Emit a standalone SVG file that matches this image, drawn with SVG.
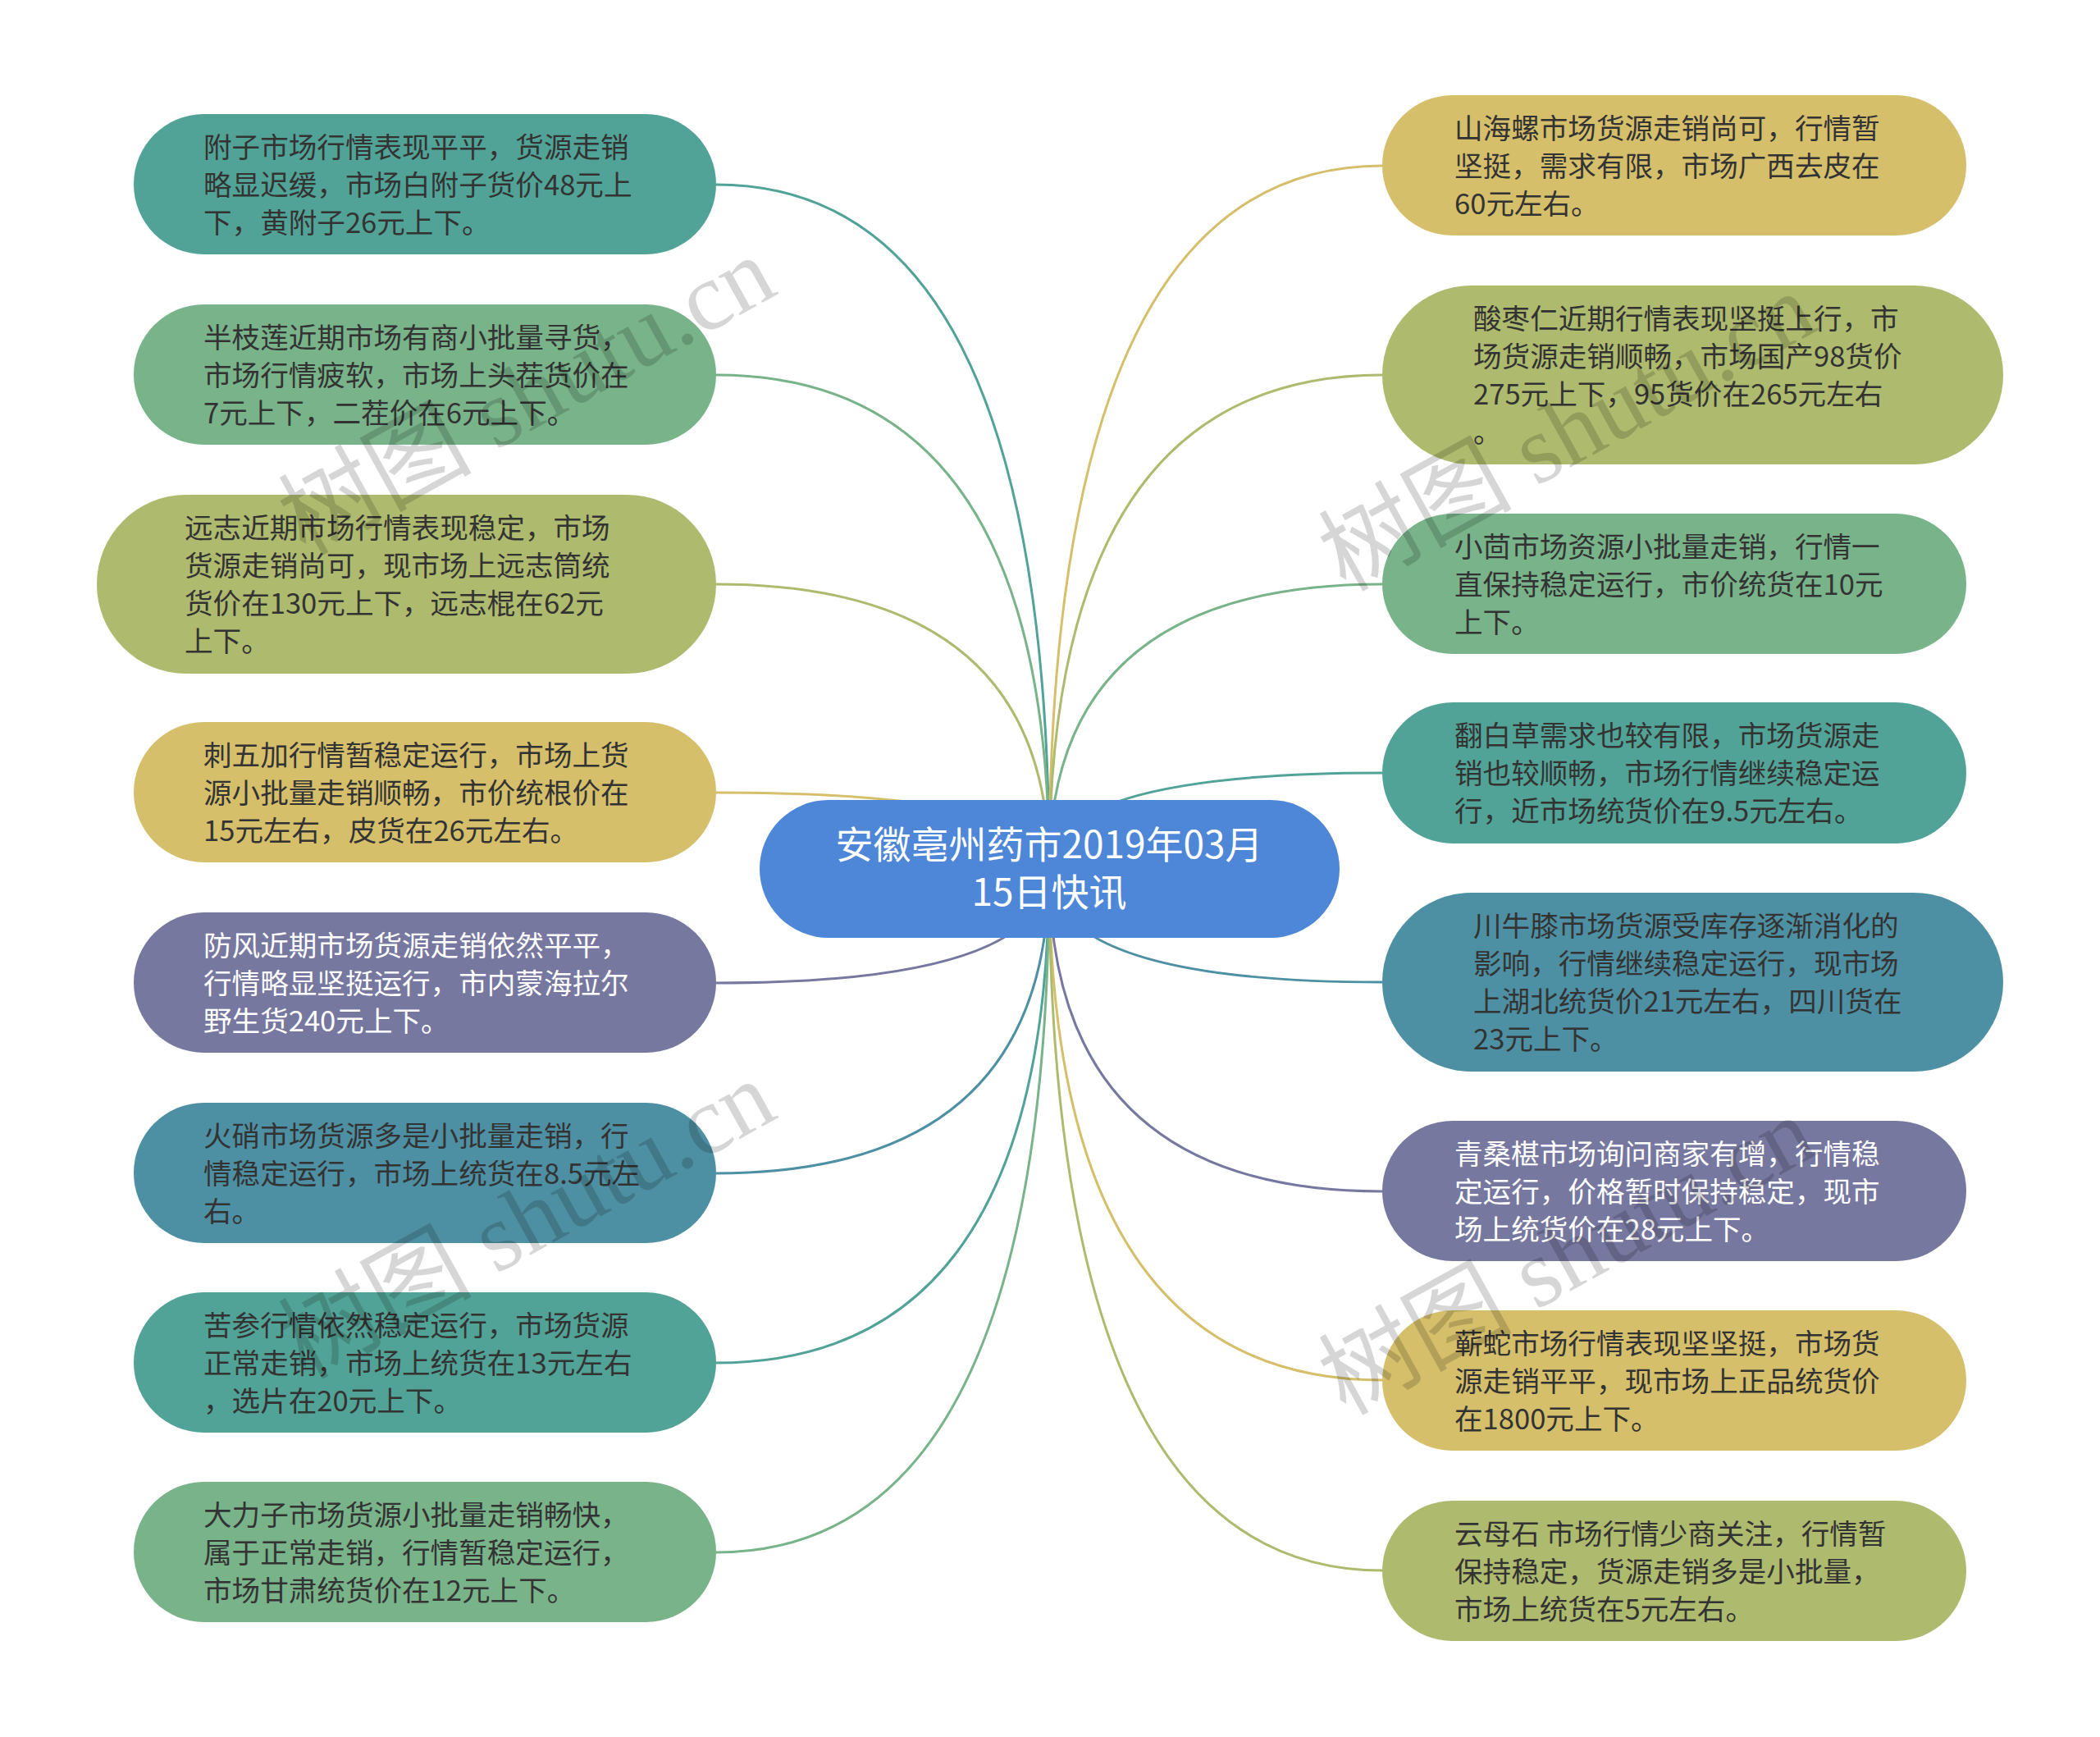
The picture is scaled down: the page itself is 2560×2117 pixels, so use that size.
<svg xmlns="http://www.w3.org/2000/svg" width="2560" height="2117" viewBox="0 0 2560 2117">
<style>
.c path{fill:none;stroke-width:3}
.n text{font-family:"Noto Sans CJK SC","Liberation Sans",sans-serif;font-size:34.6px;fill:#333}
.n.lt text{fill:#fff}
.teal{fill:#52a397}.green{fill:#79b38a}.olive{fill:#aeba6d}.gold{fill:#d5bf6b}.purple{fill:#77789f}.blue{fill:#4e90a3}
.wm text{font-family:"Liberation Serif","Noto Sans CJK SC",serif;font-size:118px;fill:#000;fill-opacity:0.16}
</style>
<rect width="2560" height="2117" fill="#fff"/>
<g id="connectors" class="c">
<path d="M873 225 Q1279 225 1279 1059" stroke="#52a397"/>
<path d="M873 457 Q1279 457 1279 1059" stroke="#79b38a"/>
<path d="M873 712 Q1279 712 1279 1059" stroke="#aeba6d"/>
<path d="M873 966 Q1279 966 1279 1059" stroke="#d5bf6b"/>
<path d="M873 1198 Q1279 1198 1279 1059" stroke="#77789f"/>
<path d="M873 1430 Q1279 1430 1279 1059" stroke="#4e90a3"/>
<path d="M873 1661 Q1279 1661 1279 1059" stroke="#52a397"/>
<path d="M873 1892 Q1279 1892 1279 1059" stroke="#79b38a"/>
<path d="M1685 202 Q1279 202 1279 1059" stroke="#d5bf6b"/>
<path d="M1685 457 Q1279 457 1279 1059" stroke="#aeba6d"/>
<path d="M1685 712 Q1279 712 1279 1059" stroke="#79b38a"/>
<path d="M1685 942 Q1279 942 1279 1059" stroke="#52a397"/>
<path d="M1685 1197 Q1279 1197 1279 1059" stroke="#4e90a3"/>
<path d="M1685 1452 Q1279 1452 1279 1059" stroke="#77789f"/>
<path d="M1685 1682 Q1279 1682 1279 1059" stroke="#d5bf6b"/>
<path d="M1685 1914 Q1279 1914 1279 1059" stroke="#aeba6d"/>
</g>
<g id="center">
<rect x="926" y="975" width="707" height="168" rx="84" fill="#4e86d8"/>
<text x="1279" y="1046" text-anchor="middle" font-family="Noto Sans CJK SC, Liberation Sans, sans-serif" font-size="46" fill="#fff">安徽亳州药市2019年03月</text>
<text x="1279" y="1104" text-anchor="middle" font-family="Noto Sans CJK SC, Liberation Sans, sans-serif" font-size="46" fill="#fff">15日快讯</text>
</g>
<g id="n-fuzi" class="n">
<rect class="teal" x="163" y="139" width="710" height="171" rx="85.5"/>
<text x="248" y="192">附子市场行情表现平平，货源走销</text>
<text x="248" y="238">略显迟缓，市场白附子货价48元上</text>
<text x="248" y="284">下，黄附子26元上下。</text>
</g>
<g id="n-banzhilian" class="n">
<rect class="green" x="163" y="371" width="710" height="171" rx="85.5"/>
<text x="248" y="424">半枝莲近期市场有商小批量寻货，</text>
<text x="248" y="470">市场行情疲软，市场上头茬货价在</text>
<text x="248" y="516">7元上下，二茬价在6元上下。</text>
</g>
<g id="n-yuanzhi" class="n">
<rect class="olive" x="118" y="603" width="755" height="218" rx="109"/>
<text x="225" y="656">远志近期市场行情表现稳定，市场</text>
<text x="225" y="702">货源走销尚可，现市场上远志筒统</text>
<text x="225" y="748">货价在130元上下，远志棍在62元</text>
<text x="225" y="794">上下。</text>
</g>
<g id="n-ciwujia" class="n">
<rect class="gold" x="163" y="880" width="710" height="171" rx="85.5"/>
<text x="248" y="933">刺五加行情暂稳定运行，市场上货</text>
<text x="248" y="979">源小批量走销顺畅，市价统根价在</text>
<text x="248" y="1025">15元左右，皮货在26元左右。</text>
</g>
<g id="n-fangfeng" class="n lt">
<rect class="purple" x="163" y="1112" width="710" height="171" rx="85.5"/>
<text x="248" y="1165">防风近期市场货源走销依然平平，</text>
<text x="248" y="1211">行情略显坚挺运行，市内蒙海拉尔</text>
<text x="248" y="1257">野生货240元上下。</text>
</g>
<g id="n-huoxiao" class="n">
<rect class="blue" x="163" y="1344" width="710" height="171" rx="85.5"/>
<text x="248" y="1397">火硝市场货源多是小批量走销，行</text>
<text x="248" y="1443">情稳定运行，市场上统货在8.5元左</text>
<text x="248" y="1489">右。</text>
</g>
<g id="n-kushen" class="n">
<rect class="teal" x="163" y="1575" width="710" height="171" rx="85.5"/>
<text x="248" y="1628">苦参行情依然稳定运行，市场货源</text>
<text x="248" y="1674">正常走销，市场上统货在13元左右</text>
<text x="248" y="1720">，选片在20元上下。</text>
</g>
<g id="n-dalizi" class="n">
<rect class="green" x="163" y="1806" width="710" height="171" rx="85.5"/>
<text x="248" y="1859">大力子市场货源小批量走销畅快，</text>
<text x="248" y="1905">属于正常走销，行情暂稳定运行，</text>
<text x="248" y="1951">市场甘肃统货价在12元上下。</text>
</g>
<g id="n-shanhailuo" class="n">
<rect class="gold" x="1685" y="116" width="712" height="171" rx="85.5"/>
<text x="1773" y="169">山海螺市场货源走销尚可，行情暂</text>
<text x="1773" y="215">坚挺，需求有限，市场广西去皮在</text>
<text x="1773" y="261">60元左右。</text>
</g>
<g id="n-suanzaoren" class="n">
<rect class="olive" x="1685" y="348" width="757" height="218" rx="109"/>
<text x="1796" y="401">酸枣仁近期行情表现坚挺上行，市</text>
<text x="1796" y="447">场货源走销顺畅，市场国产98货价</text>
<text x="1796" y="493">275元上下，95货价在265元左右</text>
<text x="1796" y="539">。</text>
</g>
<g id="n-xiaohui" class="n">
<rect class="green" x="1685" y="626" width="712" height="171" rx="85.5"/>
<text x="1773" y="679">小茴市场资源小批量走销，行情一</text>
<text x="1773" y="725">直保持稳定运行，市价统货在10元</text>
<text x="1773" y="771">上下。</text>
</g>
<g id="n-fanbaicao" class="n">
<rect class="teal" x="1685" y="856" width="712" height="172" rx="86"/>
<text x="1773" y="909">翻白草需求也较有限，市场货源走</text>
<text x="1773" y="955">销也较顺畅，市场行情继续稳定运</text>
<text x="1773" y="1001">行，近市场统货价在9.5元左右。</text>
</g>
<g id="n-chuanniuxi" class="n">
<rect class="blue" x="1685" y="1088" width="757" height="218" rx="109"/>
<text x="1796" y="1141">川牛膝市场货源受库存逐渐消化的</text>
<text x="1796" y="1187">影响，行情继续稳定运行，现市场</text>
<text x="1796" y="1233">上湖北统货价21元左右，四川货在</text>
<text x="1796" y="1279">23元上下。</text>
</g>
<g id="n-qingsangshen" class="n lt">
<rect class="purple" x="1685" y="1366" width="712" height="171" rx="85.5"/>
<text x="1773" y="1419">青桑椹市场询问商家有增，行情稳</text>
<text x="1773" y="1465">定运行，价格暂时保持稳定，现市</text>
<text x="1773" y="1511">场上统货价在28元上下。</text>
</g>
<g id="n-qishe" class="n">
<rect class="gold" x="1685" y="1597" width="712" height="171" rx="85.5"/>
<text x="1773" y="1650">蕲蛇市场行情表现坚坚挺，市场货</text>
<text x="1773" y="1696">源走销平平，现市场上正品统货价</text>
<text x="1773" y="1742">在1800元上下。</text>
</g>
<g id="n-yunmushi" class="n">
<rect class="olive" x="1685" y="1829" width="712" height="171" rx="85.5"/>
<text x="1773" y="1882">云母石 市场行情少商关注，行情暂</text>
<text x="1773" y="1928">保持稳定，货源走销多是小批量，</text>
<text x="1773" y="1974">市场上统货在5元左右。</text>
</g>
<g id="watermark" class="wm">
<text transform="translate(372 678) rotate(-29)">树图 shutu.cn</text>
<text transform="translate(372 1682) rotate(-29)">树图 shutu.cn</text>
<text transform="translate(1640 722) rotate(-29)">树图 shutu.cn</text>
<text transform="translate(1640 1726) rotate(-29)">树图 shutu.cn</text>
</g>
</svg>
